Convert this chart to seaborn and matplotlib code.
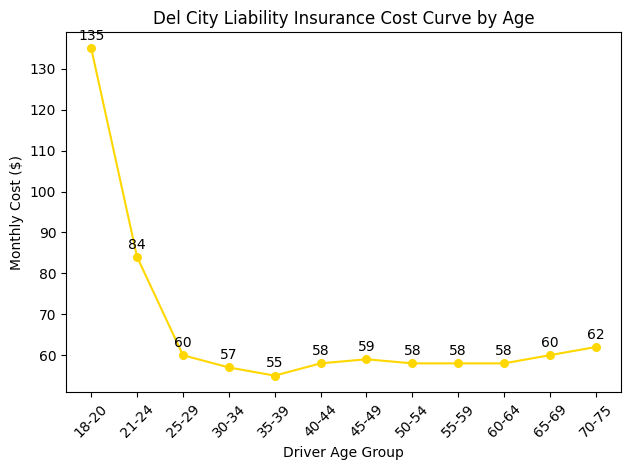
import matplotlib
matplotlib.use("Agg")
import matplotlib.pyplot as plt
import seaborn as sns
import pandas as pd

age_groups = ["18-20", "21-24", "25-29", "30-34", "35-39", "40-44", "45-49",
              "50-54", "55-59", "60-64", "65-69", "70-75"]
monthly_cost = [135, 84, 60, 57, 55, 58, 59, 58, 58, 58, 60, 62]

df = pd.DataFrame({"age": age_groups, "cost": monthly_cost})

fig, ax = plt.subplots(figsize=(6.3, 4.7), dpi=100)
sns.lineplot(data=df, x="age", y="cost", ax=ax, color="#FFD700", marker="o",
             markersize=6.5, markeredgewidth=0, linewidth=1.5, sort=False)
for i, v in enumerate(monthly_cost):
    ax.annotate(str(v), (i, v), textcoords="offset points", xytext=(0, 6),
                ha="center", fontsize=10)
ax.set_title("Del City Liability Insurance Cost Curve by Age")
ax.set_xlabel("Driver Age Group")
ax.set_ylabel("Monthly Cost ($)")
ax.tick_params(axis="x", rotation=45)
fig.subplots_adjust(left=66/630, right=621/630, top=1-32/470, bottom=1-392/470)
fig.savefig("out.png")
